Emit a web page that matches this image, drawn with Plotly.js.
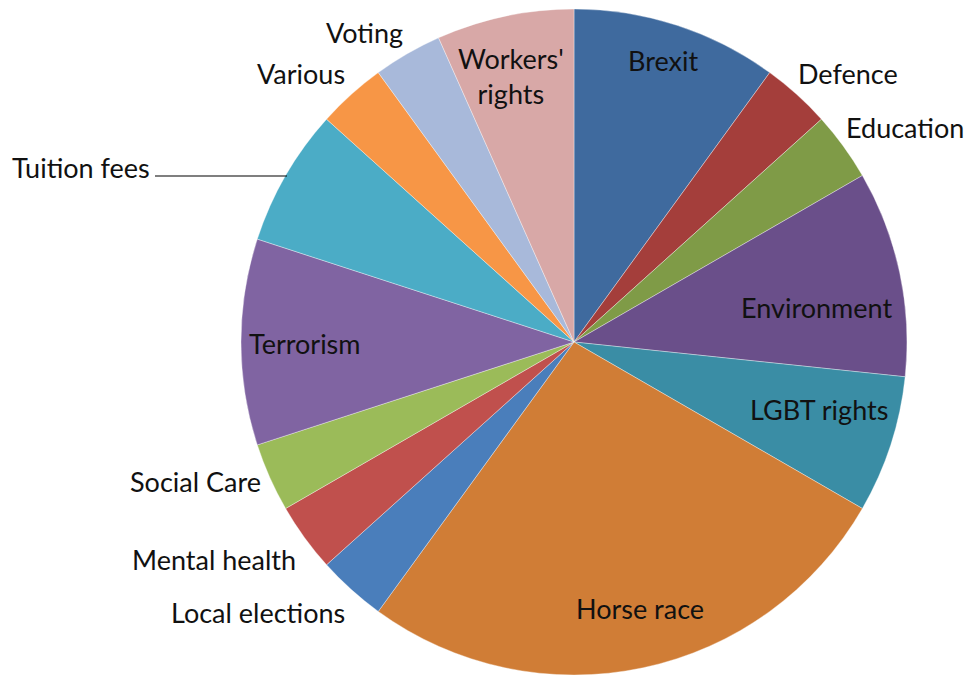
<!DOCTYPE html>
<html>
<head>
<meta charset="utf-8">
<script src="https://cdn.plot.ly/plotly-3.0.1.min.js"></script>
<style>html,body{margin:0;padding:0;background:#fff;}#chart{width:973px;height:675px;}</style>
</head>
<body>
<div id="chart"></div>
<script>
// Data (slices clockwise from 12 o'clock)
const categories = ["Brexit","Defence","Education","Environment","LGBT rights","Horse race","Local elections","Mental health","Social Care","Terrorism","Tuition fees","Various","Voting","Workers' rights"];
const values = [3,1,1,3,2,8,1,1,1,3,2,1,1,2];

// Styles
const colors = ["#3F6A9E","#A43E3B","#7F9B47","#6A4F8A","#3A8DA5","#D07D36","#4A7EBB","#C0504D","#9BBB59","#8064A2","#4BACC6","#F79646","#A8B9DA","#D8A8A7"];
// Label centre positions in pixels (text placement only)
const labelPx = [[663,60],[848,74],[905,127],[816,307],[819,410],[640,608],[258,612],[214,559],[195,481],[305,343],[81,167],[301,74],[364,33],[511,76]];

const W = 973, H = 675, ML = 241, MR = 66, MT = 9, MB = 0;
const PW = W - ML - MR, PH = H - MT - MB;
const px2x = p => (p - ML) / PW;
const py2y = p => (H - MB - p) / PH;
const font = {family: "Lato, 'Open Sans', sans-serif", size: 27, color: "#111111"};

const annotations = categories.map((c, i) => ({
  text: c === "Workers' rights" ? "Workers'<br>rights" : c,
  x: px2x(labelPx[i][0]), y: py2y(labelPx[i][1]),
  xref: "paper", yref: "paper", xanchor: "center", yanchor: "middle",
  showarrow: false, font: font
}));

const trace = {
  type: "pie",
  labels: categories,
  values: values,
  sort: false,
  direction: "clockwise",
  rotation: 0,
  textinfo: "none",
  hoverinfo: "label+value",
  marker: {colors: colors, line: {color: "rgba(255,255,255,0.45)", width: 0.8}},
  showlegend: false
};

const layout = {
  width: W, height: H,
  margin: {l: ML, r: MR, t: MT, b: MB},
  paper_bgcolor: "#ffffff",
  showlegend: false,
  annotations: annotations,
  shapes: [{type: "line", xref: "paper", yref: "paper",
            x0: px2x(155), x1: px2x(287), y0: py2y(176), y1: py2y(176),
            line: {color: "#000000", width: 1.2}}]
};

Plotly.newPlot("chart", [trace], layout, {displayModeBar: false, staticPlot: true});
</script>
</body>
</html>
